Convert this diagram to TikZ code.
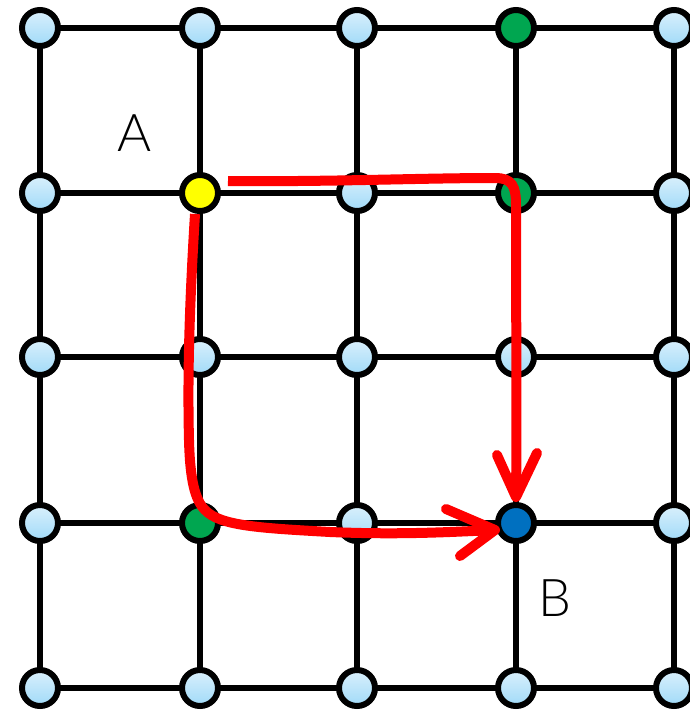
\documentclass[tikz,border=0pt]{standalone}
\usepackage{fontspec}
\setmainfont{Lato}
\newfontfamily\labfont{Lato Light}
\usetikzlibrary{shadows}
\definecolor{ltop}{RGB}{218,240,252}
\definecolor{lbot}{RGB}{160,218,248}
\definecolor{gnode}{RGB}{0,166,80}
\definecolor{ynode}{RGB}{255,255,0}
\definecolor{bnode}{RGB}{0,112,192}
\definecolor{redp}{RGB}{255,0,0}
\tikzset{
  gpt/.style={circle, draw=black, line width=6pt, minimum size=36pt, inner sep=0pt,
     drop shadow={opacity=0.25, shadow xshift=0pt, shadow yshift=-3pt}},
  lb/.style={gpt, top color=ltop, bottom color=lbot},
  gn/.style={gpt, fill=gnode},
  yn/.style={gpt, fill=ynode},
  bn/.style={gpt, fill=bnode},
  gline/.style={line width=5.5pt, black},
  rpath/.style={line width=10pt, redp},
  rhead/.style={line width=10pt, redp, line cap=round, line join=round},
  lab/.style={font=\labfont\fontsize{52}{52}\selectfont, inner sep=0pt}
}
\begin{document}
\begin{tikzpicture}[x=1pt,y=-1pt]
\useasboundingbox (0,0) rectangle (690,716);
% coordinates of grid
\foreach \i/\x in {1/40,2/200,3/357,4/516,5/674}{
  \foreach \j/\y in {1/28,2/193,3/357,4/523,5/688}{
    \coordinate (c\i\j) at (\x,\y);
  }
}
% grid lines
\foreach \j in {1,...,5}{\draw[gline] (c1\j) -- (c5\j);}
\foreach \i in {1,...,5}{\draw[gline] (c\i1) -- (c\i5);}
% nodes
\foreach \i in {1,...,5}{
  \foreach \j in {1,...,5}{
    \def\st{lb}
    \ifnum\i\j=41 \def\st{gn}\fi
    \ifnum\i\j=42 \def\st{gn}\fi
    \ifnum\i\j=24 \def\st{gn}\fi
    \ifnum\i\j=22 \def\st{yn}\fi
    \ifnum\i\j=44 \def\st{bn}\fi
    \node[\st] (n\i\j) at (c\i\j) {};
  }
}
% labels
\node[lab] (A) at (135,133) {A};
\node[lab] (B) at (555,598) {B};
% red path 1
\coordinate (p1s) at (228,181);
\coordinate (p1e) at (516,497);
\draw[rpath] (p1s) .. controls (330,182) and (420,178) .. (495,178)
  .. controls (512,178) and (516,186) .. (516,205)
  .. controls (516,320) and (517,420) .. (p1e);
\draw[rhead] (497,455) -- (p1e) -- (537,453);
% red path 2
\coordinate (p2s) at (195,214);
\coordinate (p2e) at (495,530);
\draw[rpath] (p2s) .. controls (191,280) and (187,360) .. (189,440)
  .. controls (190,480) and (195,500) .. (205,510)
  .. controls (220,526) and (260,528) .. (330,532)
  .. controls (400,535) and (450,532) .. (p2e);
\draw[rhead] (446,509) -- (p2e) -- (460,556);
\end{tikzpicture}
\end{document}
